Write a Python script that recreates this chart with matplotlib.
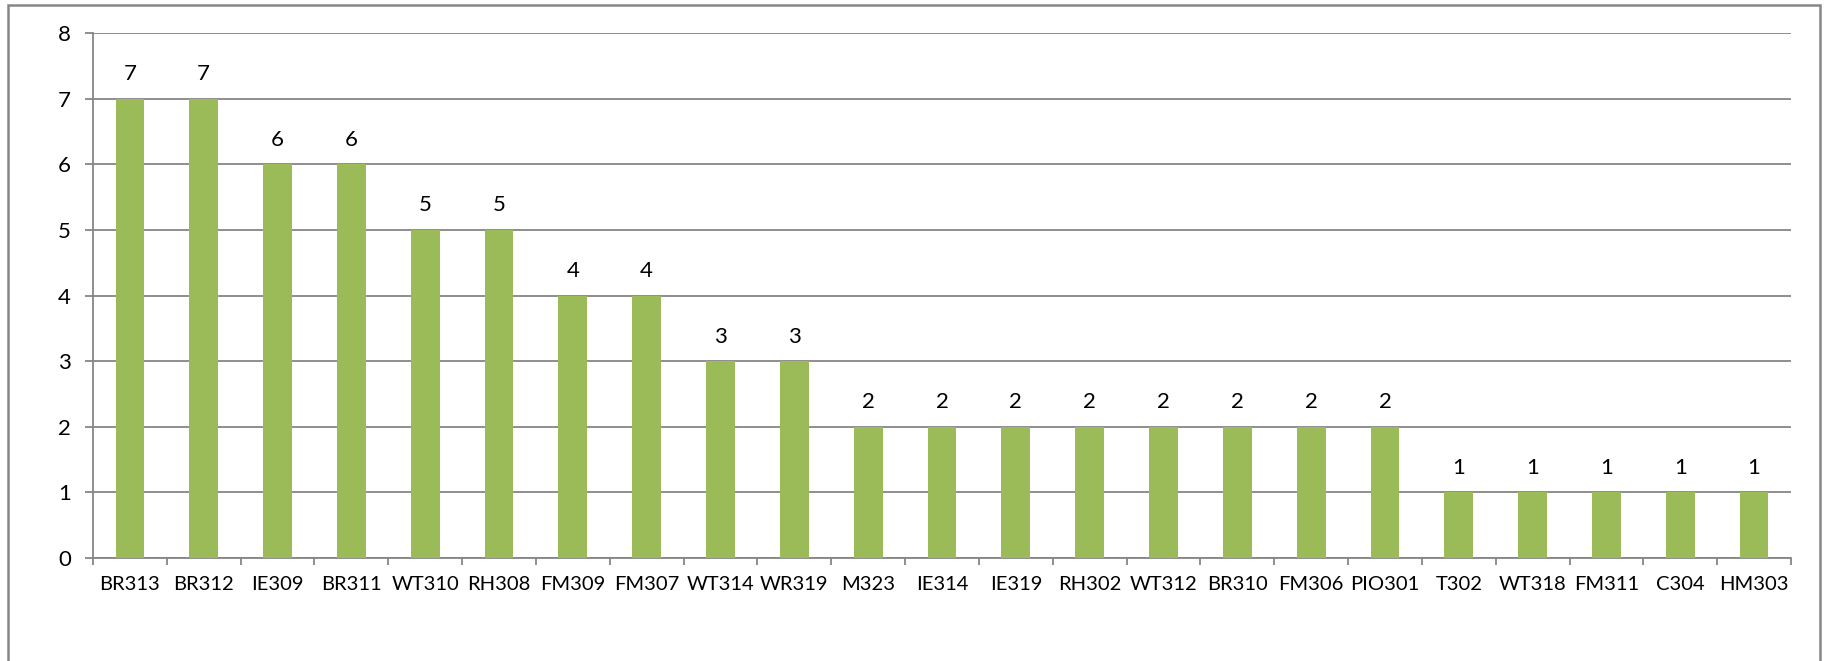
import matplotlib.pyplot as plt
import matplotlib.patches as patches
import numpy as np

plt.rcParams['font.family'] = ['Lato', 'DejaVu Sans']

courses = ['BR313', 'BR312', 'IE309', 'BR311', 'WT310', 'RH308', 'FM309', 'FM307',
           'WT314', 'WR319', 'M323', 'IE314', 'IE319', 'RH302', 'WT312', 'BR310',
           'FM306', 'PIO301', 'T302', 'WT318', 'FM311', 'C304', 'HM303']
counts = [7, 7, 6, 6, 5, 5, 4, 4, 3, 3, 2, 2, 2, 2, 2, 2, 2, 2, 1, 1, 1, 1, 1]

bar_color = '#9BBB59'
line_color = '#868686'

fig = plt.figure(figsize=(18.26, 6.61), dpi=100)
ax = fig.add_axes([93 / 1826, 1 - 558 / 661, (1791 - 93) / 1826, (558 - 33) / 661])

x = np.arange(len(courses))
bars = ax.bar(x, counts, width=0.39, color=bar_color, zorder=3)
for xi, v in zip(x, counts):
    ax.text(xi, v + 0.22, str(v), ha='center', va='bottom', fontsize=16, color='black')

ax.set_xlim(-0.5, len(courses) - 0.5)
ax.set_ylim(0, 8)
ax.set_yticks(range(0, 9))
ax.yaxis.grid(True, color=line_color, linewidth=1.3, zorder=0)
ax.set_axisbelow(True)

ax.set_xticks(x)
ax.set_xticklabels(courses)
ax.set_xticks(np.arange(-0.5, len(courses)), minor=True)
ax.tick_params(axis='x', which='major', length=0, pad=13, labelsize=14.5)
ax.tick_params(axis='x', which='minor', length=5, width=1.3, color=line_color)
ax.tick_params(axis='y', length=6, width=1.3, color=line_color, pad=10, labelsize=16)

for s in ['top', 'right']:
    ax.spines[s].set_visible(False)
for s in ['left', 'bottom']:
    ax.spines[s].set_color(line_color)
    ax.spines[s].set_linewidth(1.3)

# outer chart frame, open at the bottom edge
fig.patches.append(patches.Rectangle((8 / 1826, -0.05), (1820 - 8) / 1826, 1.05 - 5 / 661,
                                     transform=fig.transFigure, fill=False,
                                     edgecolor=line_color, linewidth=1.8))

fig.savefig('out.png', dpi=100)
